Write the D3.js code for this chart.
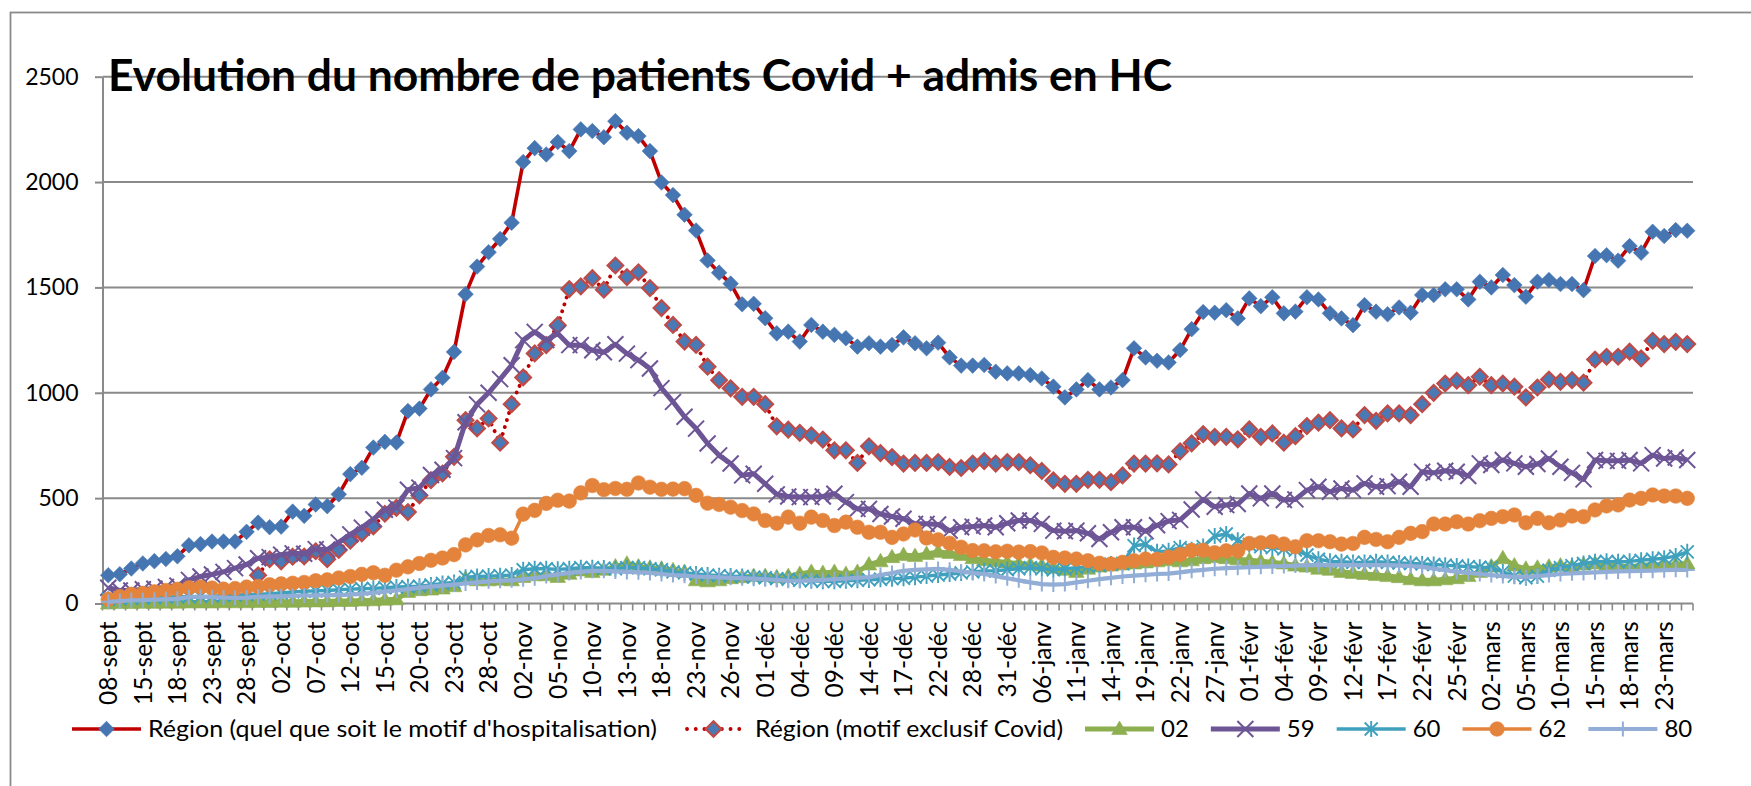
<!DOCTYPE html>
<html><head><meta charset="utf-8">
<script src="https://cdn.jsdelivr.net/npm/d3@7"></script>
<style>
body{margin:0;background:#fff;}
text{font-family:Lato,"Noto Sans",sans-serif;fill:#000;}
</style>
</head><body>
<svg id="chart" width="1751" height="786"></svg>
<script>
const titleText = "Evolution du nombre de patients Covid + admis en HC";
const categories = ["08-sept","10-sept","11-sept","15-sept","16-sept","17-sept","18-sept","21-sept","22-sept","23-sept","24-sept","25-sept","28-sept","29-sept","01-oct","02-oct","05-oct","06-oct","07-oct","08-oct","09-oct","12-oct","13-oct","14-oct","15-oct","16-oct","19-oct","20-oct","21-oct","22-oct","23-oct","26-oct","27-oct","28-oct","29-oct","30-oct","02-nov","03-nov","04-nov","05-nov","06-nov","09-nov","10-nov","11-nov","12-nov","13-nov","16-nov","17-nov","18-nov","19-nov","20-nov","23-nov","24-nov","25-nov","26-nov","27-nov","30-nov","01-déc","02-déc","03-déc","04-déc","07-déc","08-déc","09-déc","10-déc","11-déc","14-déc","15-déc","16-déc","17-déc","18-déc","21-déc","22-déc","23-déc","24-déc","28-déc","29-déc","30-déc","31-déc","04-janv","05-janv","06-janv","07-janv","08-janv","11-janv","12-janv","13-janv","14-janv","15-janv","18-janv","19-janv","20-janv","21-janv","22-janv","25-janv","26-janv","27-janv","28-janv","29-janv","01-févr","02-févr","03-févr","04-févr","05-févr","08-févr","09-févr","10-févr","11-févr","12-févr","15-févr","16-févr","17-févr","18-févr","19-févr","22-févr","23-févr","24-févr","25-févr","26-févr","01-mars","02-mars","03-mars","04-mars","05-mars","08-mars","09-mars","10-mars","11-mars","12-mars","15-mars","16-mars","17-mars","18-mars","19-mars","22-mars","23-mars","24-mars","25-mars"];
const yTicks = [0,500,1000,1500,2000,2500];
const seriesNames = ["Région (quel que soit le motif d'hospitalisation)","Région (motif exclusif Covid)","02","59","60","62","80"];

const regionAll = [134,139,166,190,201,211,224,276,282,294,
294,294,340,384,362,365,436,416,470,462,
518,614,644,740,767,764,913,925,1016,1071,
1194,1468,1599,1667,1730,1807,2095,2161,2131,2190,
2147,2250,2242,2213,2289,2234,2218,2147,1998,1938,
1845,1770,1628,1570,1518,1420,1422,1354,1282,1290,
1243,1322,1290,1275,1259,1219,1235,1219,1227,1263,
1235,1211,1238,1168,1129,1129,1132,1100,1092,1092,
1084,1068,1029,978,1016,1060,1016,1025,1060,1211,
1168,1152,1144,1203,1302,1383,1380,1392,1353,1448,
1411,1453,1377,1385,1453,1443,1377,1353,1321,1416,
1385,1373,1405,1380,1464,1464,1491,1491,1443,1527,
1500,1559,1511,1456,1527,1535,1516,1516,1487,1649,
1653,1627,1696,1665,1764,1744,1772,1769];

const regionCovid = [null,null,null,null,null,null,null,null,null,null,
null,null,null,134,210,200,222,223,248,210,
254,298,333,366,426,454,434,513,585,617,
696,870,831,878,763,946,1073,1187,1226,1321,
1492,1505,1544,1489,1604,1549,1572,1497,1402,1322,
1243,1227,1124,1060,1021,981,981,946,841,825,
810,798,778,727,727,667,746,714,695,664,
667,667,671,648,643,664,676,664,671,671,
656,629,584,568,568,587,587,576,608,664,
664,665,660,722,760,804,791,791,779,826,
791,807,763,794,842,858,870,831,826,894,
867,902,902,894,946,1000,1044,1057,1036,1076,
1036,1044,1029,978,1025,1063,1052,1060,1048,1158,
1171,1171,1195,1163,1247,1231,1242,1231];

const dep02 = [0,2,2,3,3,4,4,5,5,5,
6,6,6,7,7,8,8,9,10,10,
12,12,14,15,18,20,55,63,66,71,
82,118,110,110,113,110,126,134,134,126,
141,157,149,160,176,189,175,170,165,158,
150,110,105,110,120,125,130,130,125,130,
140,150,145,150,140,150,185,200,220,230,
225,235,245,240,230,215,205,200,195,190,
185,180,170,160,150,165,175,180,185,190,
195,200,205,200,205,215,220,215,210,205,
200,195,190,180,175,165,160,150,145,140,
135,130,125,115,110,110,115,120,130,150,
175,215,180,165,170,175,180,175,185,190,
185,180,175,180,185,180,185,190];

const dep59 = [75,62,62,68,70,78,85,112,128,138,
150,168,185,215,220,232,238,236,258,256,
290,328,360,400,445,455,540,550,610,635,
690,860,945,1000,1065,1131,1250,1289,1250,1281,
1226,1226,1202,1192,1230,1186,1155,1115,1022,957,
886,830,759,703,664,608,616,568,518,508,
505,505,508,521,481,449,449,425,413,402,
378,378,375,346,362,365,370,362,381,394,
394,378,346,343,346,333,306,338,362,362,
343,371,391,397,446,494,459,467,472,522,
499,522,491,494,538,554,530,546,538,570,
554,557,578,554,625,620,630,625,605,665,
657,681,665,649,662,688,649,620,589,681,
677,677,681,665,704,688,693,681];

const dep60 = [20,22,24,26,28,30,32,32,34,35,
38,40,42,44,46,50,55,58,60,62,
65,68,70,72,75,78,80,82,88,95,
100,125,128,130,132,135,160,165,165,162,
165,170,170,168,165,170,170,165,160,150,
145,140,135,132,130,128,125,122,118,115,
110,108,105,105,108,110,112,115,118,120,
125,130,135,140,145,150,155,155,160,165,
170,165,160,165,170,175,180,187,190,275,
280,245,250,265,255,270,320,330,300,280,
270,265,260,253,230,210,200,198,195,195,
198,195,192,190,188,185,182,178,175,172,
170,150,130,122,130,158,170,180,190,198,
200,198,200,205,210,215,225,245];

const dep62 = [20,33,44,48,55,62,67,75,78,73,
68,71,78,81,89,93,96,100,108,112,
121,128,138,146,134,158,174,190,205,216,
232,278,302,323,326,310,424,442,475,490,
486,525,560,540,546,542,572,552,542,543,
545,513,476,470,457,441,425,394,381,410,
381,410,394,370,386,362,338,338,314,330,
349,311,302,286,267,251,250,245,248,244,
246,240,219,216,211,203,191,187,195,203,
211,210,220,232,252,253,241,250,250,285,
288,293,282,269,298,298,293,282,285,314,
304,293,314,333,341,377,377,388,377,393,
404,412,420,383,404,383,396,415,412,444,
463,468,491,499,515,510,510,499];

const dep80 = [8,12,15,16,18,20,22,30,32,30,
28,26,28,32,34,34,36,38,38,40,
40,42,46,50,56,62,68,75,80,85,
90,95,100,105,108,110,115,120,130,138,
145,150,155,155,152,150,148,145,140,135,
132,128,126,124,122,120,118,115,112,108,
108,110,112,115,118,122,125,135,145,155,
160,162,164,160,152,145,140,130,120,110,
100,92,90,92,100,108,116,122,128,132,
136,140,142,148,155,160,165,168,170,172,
174,176,178,180,182,182,182,182,182,182,
182,182,180,178,174,165,158,150,145,140,
135,130,127,125,130,135,140,143,145,148,
150,152,154,155,156,158,160,159];

// ---------- layout ----------
const svg = d3.select("#chart");
const W = 1751, H = 786;
const M = {left:102.5, right:1693, top:76.7, bottom:603.5};
const grid = "#8a8a8a";

svg.append("rect").attr("width",W).attr("height",H).attr("fill","#fff");
svg.append("rect").attr("x",10.5).attr("y",12.5).attr("width",2000).attr("height",1000)
  .attr("fill","none").attr("stroke",grid).attr("stroke-width",1.8);

const x = d3.scaleBand().domain(categories).range([M.left, M.right]).padding(0);
const cx = c => x(c) + x.bandwidth()/2;
const y = d3.scaleLinear().domain([0,2500]).range([M.bottom, M.top]);

svg.append("g").selectAll("line").data(yTicks.filter(t=>t>0)).join("line")
  .attr("x1",M.left).attr("x2",M.right).attr("y1",d=>y(d)).attr("y2",d=>y(d))
  .attr("stroke",grid).attr("stroke-width",2);

const yAxis = svg.append("g").attr("transform",`translate(${M.left},0)`)
  .call(d3.axisLeft(y).tickValues(yTicks).tickSize(7.5).tickSizeOuter(0).tickPadding(16.5).tickFormat(d3.format("d")));
yAxis.select(".domain").attr("stroke",grid).attr("stroke-width",2);
yAxis.selectAll(".tick line").attr("stroke",grid).attr("stroke-width",2);
yAxis.selectAll(".tick text").attr("font-size",23).attr("font-family","Lato").attr("fill","#000");

const xg = svg.append("g");
xg.append("line").attr("x1",M.left).attr("x2",M.right).attr("y1",M.bottom).attr("y2",M.bottom)
  .attr("stroke",grid).attr("stroke-width",2);
xg.selectAll("line.tk").data(d3.range(categories.length+1)).join("line").attr("class","tk")
  .attr("x1",i=>M.left + i*x.step()).attr("x2",i=>M.left + i*x.step())
  .attr("y1",M.bottom).attr("y2",M.bottom+7).attr("stroke",grid).attr("stroke-width",1.6);

const labelCats = categories.filter((c,i)=>i%3===0);
const xAxis = svg.append("g").attr("transform",`translate(0,${M.bottom})`)
  .call(d3.axisBottom(x).tickValues(labelCats).tickSize(0).tickSizeOuter(0));
xAxis.select(".domain").remove();
xAxis.selectAll(".tick text")
  .attr("transform","rotate(-90)").attr("text-anchor","end")
  .attr("x",-18).attr("y",0).attr("dy","0.36em")
  .attr("font-size",24.5).attr("font-family","Lato").attr("fill","#000");

// ---------- series ----------
const mk = {
  diamond: "M0,-7.8L7.8,0L0,7.8L-7.8,0Z",
  triangle: "M0,-8L7.8,5.5L-7.8,5.5Z",
  cross: "M-8,-8L8,8M-8,8L8,-8",
  star: "M-6.5,-6.5L6.5,6.5M-6.5,6.5L6.5,-6.5M0,-8L0,8",
  circle: "M7.3,0A7.3,7.3 0 1,1 -7.3,0A7.3,7.3 0 1,1 7.3,0Z",
  plus: "M0,-7.5L0,7.5M-7.5,0L7.5,0"
};
const series = [
  {name:seriesNames[0], values:regionAll, line:"#C00000", lw:3.6, dash:null, marker:"diamond", mfill:"#4676B2", mstroke:"#4676B2", msw:0.6},
  {name:seriesNames[1], values:regionCovid, line:"#C00000", lw:3.8, dash:"0.1 7.2", marker:"diamond", mfill:"#4A7AB5", mstroke:"#BE4B48", msw:2.2},
  {name:seriesNames[2], values:dep02, line:"#8DAF50", lw:5, dash:null, marker:"triangle", mfill:"#8DAF50", mstroke:"#8DAF50", msw:0.6},
  {name:seriesNames[3], values:dep59, line:"#6D5596", lw:5, dash:null, marker:"cross", mfill:"none", mstroke:"#6D5596", msw:2},
  {name:seriesNames[4], values:dep60, line:"#3FA1BD", lw:3.4, dash:null, marker:"star", mfill:"none", mstroke:"#3FA1BD", msw:1.9},
  {name:seriesNames[5], values:dep62, line:"#E4843C", lw:3.4, dash:null, marker:"circle", mfill:"#E4843C", mstroke:"#E4843C", msw:0.6},
  {name:seriesNames[6], values:dep80, line:"#92AED6", lw:4.2, dash:null, marker:"plus", mfill:"none", mstroke:"#92AED6", msw:2}
];

const plot = svg.append("g");
series.forEach(s => {
  const pts = categories.map((c,i)=>({c, v:s.values[i]}));
  const g = plot.append("g");
  const line = d3.line().defined(d=>d.v!=null).x(d=>cx(d.c)).y(d=>y(d.v));
  const p = g.append("path").datum(pts).attr("d",line).attr("fill","none")
    .attr("stroke",s.line).attr("stroke-width",s.lw).attr("stroke-linejoin","round");
  if (s.dash) p.attr("stroke-dasharray",s.dash).attr("stroke-linecap","round");
  g.selectAll("path.m").data(pts.filter(d=>d.v!=null)).join("path").attr("class","m")
    .attr("transform",d=>`translate(${cx(d.c)},${y(d.v)})`)
    .attr("d",mk[s.marker]).attr("fill",s.mfill).attr("stroke",s.mstroke).attr("stroke-width",s.msw);
});

// ---------- legend ----------
const leg = svg.append("g");
const legY = 729, lineLen = 69, gapText = 7, gapItem = 22;
const fixedWidths = [509, 308];
let lx = 72;
series.forEach((s,i) => {
  const g = leg.append("g");
  const l = g.append("line").attr("x1",lx).attr("x2",lx+lineLen).attr("y1",legY).attr("y2",legY)
    .attr("stroke",s.line).attr("stroke-width",s.lw);
  if (s.dash) l.attr("stroke-dasharray","0.1 8.6").attr("stroke-linecap","round").attr("x1",lx+8).attr("x2",lx+lineLen-6);
  g.append("path").attr("transform",`translate(${lx+lineLen/2},${legY})`)
    .attr("d",mk[s.marker]).attr("fill",s.mfill).attr("stroke",s.mstroke).attr("stroke-width",s.msw);
  const t = g.append("text").attr("x",lx+lineLen+gapText).attr("y",legY).attr("dy","0.35em")
    .attr("font-size",24).text(s.name);
  if (i < fixedWidths.length) t.attr("textLength",fixedWidths[i]).attr("lengthAdjust","spacingAndGlyphs");
  const w = i < fixedWidths.length ? fixedWidths[i] : t.node().getComputedTextLength();
  lx += lineLen + gapText + w + gapItem;
});

// ---------- title ----------
svg.append("text").attr("x",108).attr("y",91).attr("font-size",43).attr("font-weight","bold")
  .attr("textLength",1064).attr("lengthAdjust","spacingAndGlyphs").text(titleText);
</script>
</body></html>
